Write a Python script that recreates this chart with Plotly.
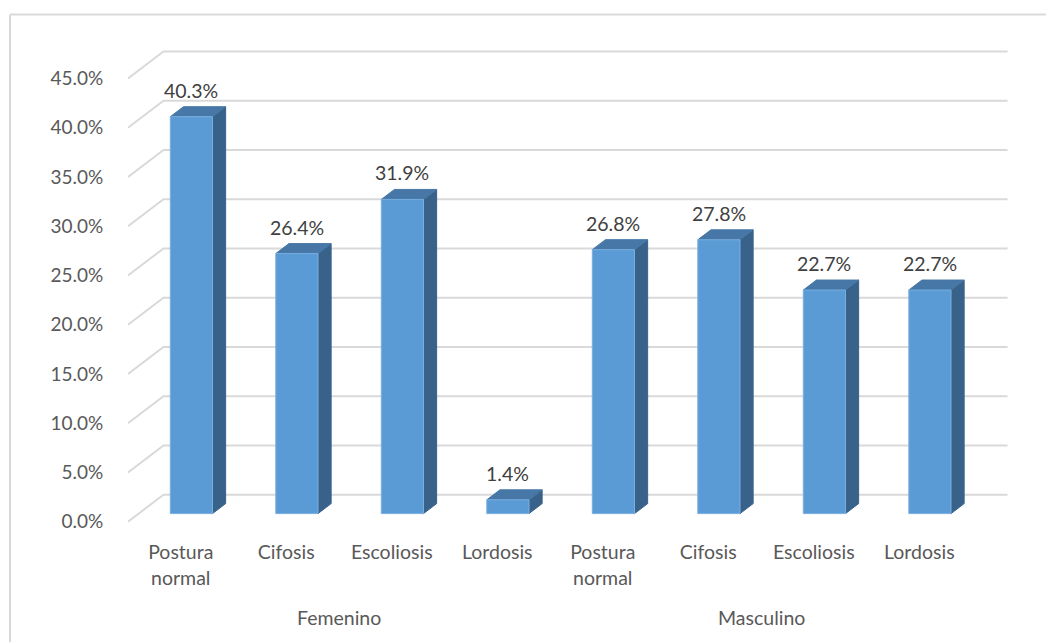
import plotly.graph_objects as go

# ---- data -------------------------------------------------------------
groups = ["Femenino", "Masculino"]
categories = ["Postura<br>normal", "Cifosis", "Escoliosis", "Lordosis",
              "Postura<br>normal", "Cifosis", "Escoliosis", "Lordosis"]
values = [40.3, 26.4, 31.9, 1.4, 26.8, 27.8, 22.7, 22.7]
y_ticks = [0, 5, 10, 15, 20, 25, 30, 35, 40, 45]
y_tick_text = [f"{t:.1f}%" for t in y_ticks]

# ---- pseudo-3D projection (depth expressed in axis units) ------------
DEPTH_X = 0.3365      # horizontal shift of the back wall, in category units
DEPTH_Y = 2.74        # vertical shift of the back wall, in percent units
BAR_Z0, BAR_Z1 = 0.30, 0.67   # front / back of the bars as fraction of depth
BAR_HALF = 0.2        # half width of a bar's front face

FRONT = "#5B9BD5"
TOP = "#4677A6"
SIDE = "#38628A"
GRID = "#D9D9D9"
TEXT = "#595959"
FONT = "Lato"

n = len(values)
x_left, x_right = -0.5, n - 0.5

fig = go.Figure()

# back-wall gridlines with their slanted floor segments
for t in y_ticks:
    fig.add_trace(go.Scatter(
        x=[x_left, x_left + DEPTH_X, x_right + DEPTH_X],
        y=[t, t + DEPTH_Y, t + DEPTH_Y],
        mode="lines", line=dict(color=GRID, width=2),
        hoverinfo="skip", showlegend=False))


def face(xs, ys, color, edge=None):
    fig.add_trace(go.Scatter(
        x=xs + [xs[0]], y=ys + [ys[0]], mode="lines", fill="toself",
        fillcolor=color, line=dict(color=edge or color, width=1),
        hoverinfo="skip", showlegend=False))


annotations = []
for i, v in enumerate(values):
    dx0, dy0 = BAR_Z0 * DEPTH_X, BAR_Z0 * DEPTH_Y
    dx1, dy1 = BAR_Z1 * DEPTH_X, BAR_Z1 * DEPTH_Y
    l0, r0 = i - BAR_HALF + dx0, i + BAR_HALF + dx0
    l1, r1 = i - BAR_HALF + dx1, i + BAR_HALF + dx1
    # side face
    face([r0, r0, r1, r1], [dy0, v + dy0, v + dy1, dy1], SIDE)
    # top face
    face([l0, r0, r1, l1], [v + dy0, v + dy0, v + dy1, v + dy1], TOP)
    # front face
    face([l0, r0, r0, l0], [dy0, dy0, v + dy0, v + dy0], FRONT, "#79AEE0")
    annotations.append(dict(
        x=i + dx0, y=v + dy1, xref="x", yref="y", text=f"{v:.1f}%",
        showarrow=False, yanchor="bottom", yshift=3,
        font=dict(family=FONT, size=19.5, color="#404040")))

# group labels under the category labels
for g, name in enumerate(groups):
    annotations.append(dict(
        x=g * 4 + 1.5, y=-0.193, xref="x", yref="paper", text=name,
        showarrow=False, yanchor="middle",
        font=dict(family=FONT, size=19.5, color=TEXT)))

# chart-area frame (top and left edges)
shapes = [
    dict(type="line", xref="paper", yref="paper", x0=-0.1338, x1=1.05,
         y0=1.0635, y1=1.0635, line=dict(color="#D9D9D9", width=2)),
    dict(type="line", xref="paper", yref="paper", x0=-0.1338, x1=-0.1338,
         y0=1.0635, y1=-0.3, line=dict(color="#D9D9D9", width=2)),
]

fig.update_layout(
    width=1046, height=642,
    margin=dict(l=128, r=36, t=45, b=117),
    paper_bgcolor="white", plot_bgcolor="white",
    annotations=annotations, shapes=shapes,
    font=dict(family=FONT, size=19.5, color=TEXT),
    xaxis=dict(range=[x_left, 7.86], showgrid=False, zeroline=False,
               showline=False, tickmode="array",
               tickvals=list(range(n)), ticktext=categories,
               ticks="outside", ticklen=10, tickcolor="rgba(0,0,0,0)",
               tickfont=dict(family=FONT, size=19.5, color=TEXT),
               fixedrange=True),
    yaxis=dict(range=[-0.335, 48.4], showgrid=False, zeroline=False,
               showline=False, tickmode="array",
               tickvals=y_ticks, ticktext=y_tick_text,
               ticks="outside", ticklen=20, tickcolor="rgba(0,0,0,0)",
               tickfont=dict(family=FONT, size=19, color=TEXT),
               fixedrange=True),
    showlegend=False,
)

fig.write_html("out.html")
